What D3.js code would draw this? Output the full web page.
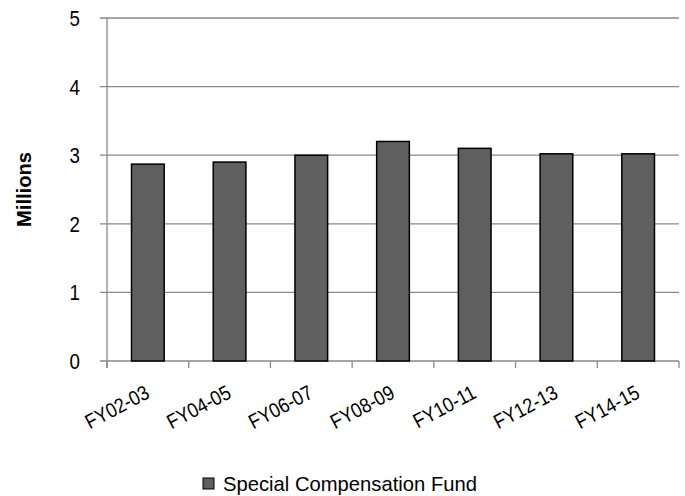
<!DOCTYPE html>
<html>
<head>
<meta charset="utf-8">
<script src="https://cdn.jsdelivr.net/npm/d3@7"></script>
<style>
  html, body { margin: 0; padding: 0; background: #fff; }
  svg { display: block; }
  text { font-family: "Liberation Sans Narrow", "Arial Narrow", "Liberation Sans", sans-serif; fill: #000; }
</style>
</head>
<body>
<svg id="chart" width="685" height="496"></svg>
<script>
// Fiscal periods and fund totals (millions)
const categories = ["FY02-03", "FY04-05", "FY06-07", "FY08-09", "FY10-11", "FY12-13", "FY14-15"];
const fundValues = [2.87, 2.90, 3.00, 3.20, 3.10, 3.02, 3.02];
const yTicks = [0, 1, 2, 3, 4, 5];
const seriesName = "Special Compensation Fund";
const axisTitle = "Millions";

const svg = d3.select("#chart");
const plot = { left: 107, right: 679, top: 18, bottom: 361 };

const x = d3.scaleBand().domain(categories).range([plot.left, plot.right]).paddingInner(0).paddingOuter(0);
const y = d3.scaleLinear().domain([0, 5]).range([plot.bottom, plot.top]);

const gridColor = "#898989";
const narrow = 0.85; // horizontal squeeze for a condensed look

// horizontal gridlines with left tick stubs
svg.append("g").selectAll("line").data(yTicks).join("line")
  .attr("x1", plot.left - 7).attr("x2", plot.right)
  .attr("y1", d => y(d)).attr("y2", d => y(d))
  .attr("stroke", gridColor).attr("stroke-width", 1.3);

// value axis line
svg.append("line").attr("x1", plot.left).attr("x2", plot.left)
  .attr("y1", plot.top).attr("y2", plot.bottom + 7)
  .attr("stroke", gridColor).attr("stroke-width", 1.3);

// y tick labels
svg.append("g").selectAll("text").data(yTicks).join("text")
  .attr("transform", d => `translate(80,${y(d) + 8}) scale(${narrow},1)`)
  .attr("text-anchor", "end").attr("font-size", 22)
  .text(d => d);

// category tick marks at band boundaries
const boundaries = categories.map(c => x(c)).concat([plot.right]);
svg.append("g").selectAll("line").data(boundaries).join("line")
  .attr("x1", d => d).attr("x2", d => d)
  .attr("y1", plot.bottom).attr("y2", plot.bottom + 7)
  .attr("stroke", gridColor).attr("stroke-width", 1.3);

// bars
const barW = x.bandwidth() * 0.4;
svg.append("g").selectAll("rect").data(categories).join("rect")
  .attr("x", c => x(c) + (x.bandwidth() - barW) / 2)
  .attr("width", barW)
  .attr("y", (c, i) => y(fundValues[i]))
  .attr("height", (c, i) => plot.bottom - y(fundValues[i]))
  .attr("fill", "#5f5f5f").attr("stroke", "#000").attr("stroke-width", 1.5);

// rotated category labels
svg.append("g").selectAll("text").data(categories).join("text")
  .attr("transform", c => `translate(${x(c) + x.bandwidth() / 2 + 3},${plot.bottom + 36}) rotate(-28) scale(0.88,1)`)
  .attr("text-anchor", "end").attr("font-size", 20.5)
  .text(c => c);

// y axis title
svg.append("text")
  .attr("transform", `translate(31,${(plot.top + plot.bottom) / 2}) rotate(-90)`)
  .attr("text-anchor", "middle").attr("font-size", 21).attr("font-weight", "bold")
  .attr("textLength", 75).attr("lengthAdjust", "spacingAndGlyphs")
  .text(axisTitle);

// legend
const lg = svg.append("g").attr("transform", "translate(203,478)");
lg.append("rect").attr("width", 11).attr("height", 11)
  .attr("fill", "#5f5f5f").attr("stroke", "#000").attr("stroke-width", 1);
lg.append("text").attr("x", 20).attr("y", 12.5).attr("font-size", 21)
  .attr("textLength", 254).attr("lengthAdjust", "spacingAndGlyphs")
  .text(seriesName);
</script>
</body>
</html>
